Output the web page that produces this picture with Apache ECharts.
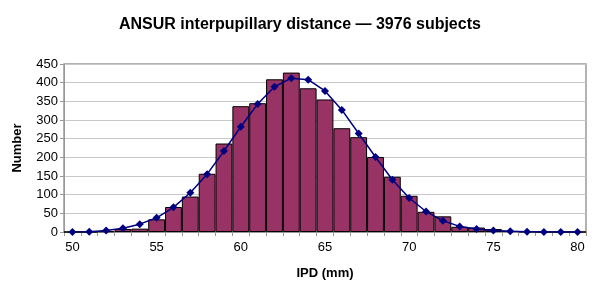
<!DOCTYPE html>
<html><head><meta charset="utf-8">
<script src="https://cdn.jsdelivr.net/npm/echarts@6/dist/echarts.min.js"></script>
<style>html,body{margin:0;padding:0;background:#fff}#c{width:610px;height:295px}</style>
</head><body><div id="c"></div>
<script>
const categories = ['50','51','52','53','54','55','56','57','58','59','60','61','62','63','64','65','66','67','68','69','70','71','72','73','74','75','76','77','78','79','80'];
const observed = [0,0,2,8,9,34,67,95,156,237,337,345,409,427,385,355,278,254,201,148,97,54,42,14,12,8,3,1,0,0,0];
const fitted = [0,1,4,10,21,38,66,105,155,217,282,343,389,412,408,378,327,264,201,140,91,55,30,15,8,4,2,1,0,0,0];
const yTicks = [0,50,100,150,200,250,300,350,400,450];

const chart = echarts.init(document.getElementById('c'), null, {renderer:'canvas'});
const font = 'Liberation Sans, Arial, sans-serif';
chart.setOption({
  animation:false,
  backgroundColor:'#fff',
  title:{text:'ANSUR interpupillary distance \u2014 3976 subjects', left:114, top:12,
    textStyle:{fontFamily:font, fontWeight:'bold', fontSize:16, color:'#000'}},
  grid:{left:64, right:24, top:64, bottom:63, show:true, borderColor:'#999', borderWidth:1.5},
  xAxis:{type:'category', data:categories, boundaryGap:true,
    name:'IPD (mm)', nameLocation:'middle', nameGap:35,
    nameTextStyle:{fontFamily:font, fontWeight:'bold', fontSize:13, color:'#000'},
    axisLine:{lineStyle:{color:'#999', width:1}},
    axisTick:{show:true, interval:0, length:4, inside:false, lineStyle:{color:'#999'}},
    axisLabel:{interval:4, fontFamily:font, fontSize:13, color:'#000', margin:9},
    splitLine:{show:false}},
  yAxis:{type:'value', min:yTicks[0], max:yTicks[yTicks.length-1], interval:50,
    name:'Number', nameLocation:'middle', nameGap:40, nameRotate:90,
    nameTextStyle:{fontFamily:font, fontWeight:'bold', fontSize:13, color:'#000'},
    axisLine:{show:true, lineStyle:{color:'#999'}},
    axisTick:{show:true, length:4, lineStyle:{color:'#999'}},
    axisLabel:{fontFamily:font, fontSize:13, color:'#000', margin:6},
    splitLine:{show:true, lineStyle:{color:'#c8c8c8', width:1}}},
  series:[
    {type:'bar', data:observed, barCategoryGap:'0%', barGap:'-100%',
      itemStyle:{color:'#993366', borderColor:'#000', borderWidth:1}},
    {type:'line', data:fitted, symbol:'diamond', symbolSize:8,
      lineStyle:{color:'#000080', width:1.5}, itemStyle:{color:'#000080'}, z:5}
  ]
});
</script></body></html>
